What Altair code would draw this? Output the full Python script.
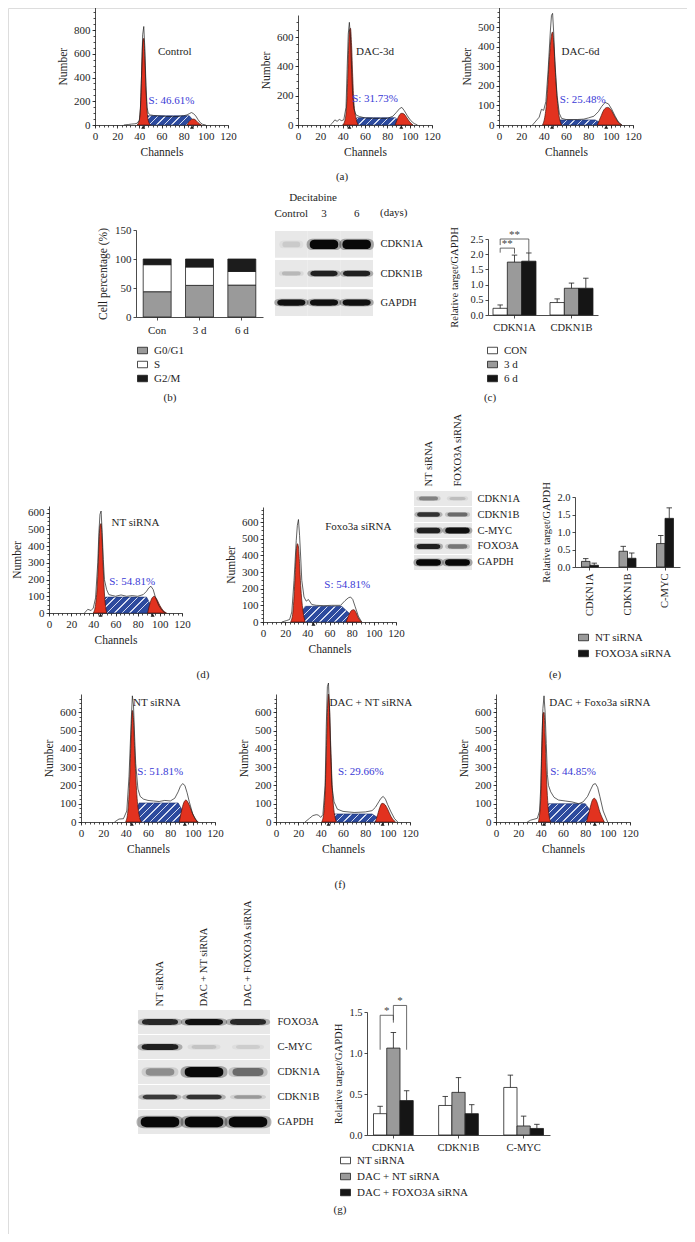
import altair as alt
import pandas as pd

# ------------------------------------------------------------------ data
CHANNEL_TICKS = [0, 20, 40, 60, 80, 100, 120]

# (a) Control
a1_raw_ch = [26, 30, 33, 36, 38, 40, 41, 42, 43, 44, 45, 46, 47, 48, 50, 53, 56, 60, 65, 70, 75, 80, 83, 85, 87, 89, 91, 93, 95, 97, 100]
a1_raw_n = [0, 4, 8, 10, 15, 40, 140, 420, 760, 830, 640, 330, 150, 100, 85, 80, 78, 75, 72, 70, 72, 78, 85, 95, 105, 95, 75, 45, 20, 6, 0]
a1_g1_ch = [38, 40, 41, 42, 43, 44, 45, 46, 47, 48, 50]
a1_g1_n = [0, 40, 150, 420, 690, 730, 560, 300, 120, 40, 0]
a1_s_ch = [41, 47, 85, 89, 92]
a1_s_n = [0, 78, 78, 35, 0]
a1_g2_ch = [83, 85, 87, 89, 91, 93, 96]
a1_g2_n = [0, 30, 46, 50, 40, 20, 0]
a1_marks = [43.5, 87.5]

# (a) DAC-3d
a2_raw_ch = [29, 31, 33, 35, 37, 39, 41, 43, 44, 45, 46, 47, 48, 49, 50, 52, 55, 60, 70, 80, 85, 88, 91, 93, 95, 98, 101, 104, 107]
a2_raw_n = [0, 15, 35, 25, 38, 30, 35, 120, 380, 620, 700, 600, 380, 200, 110, 68, 58, 48, 45, 45, 60, 85, 112, 120, 100, 62, 30, 10, 0]
a2_g1_ch = [40, 42, 44, 45, 46, 47, 48, 49, 50, 52, 54]
a2_g1_n = [0, 30, 200, 450, 640, 660, 540, 330, 160, 45, 0]
a2_s_ch = [45, 53, 87, 91, 95]
a2_s_n = [0, 50, 50, 25, 0]
a2_g2_ch = [87, 89, 91, 93, 95, 97, 100, 103]
a2_g2_n = [0, 40, 70, 80, 75, 55, 22, 0]
a2_marks = [46, 92.5]

# (a) DAC-6d
a3_raw_ch = [30, 33, 36, 38, 40, 42, 44, 46, 47, 48, 49, 50, 52, 54, 56, 60, 70, 76, 80, 85, 89, 92, 95, 98, 101, 104, 107, 110]
a3_raw_n = [0, 20, 40, 80, 75, 120, 280, 480, 560, 570, 470, 330, 150, 60, 34, 28, 28, 30, 36, 45, 68, 95, 115, 108, 80, 45, 15, 0]
a3_g1_ch = [39, 41, 43, 45, 47, 48, 49, 51, 53, 56]
a3_g1_n = [0, 40, 140, 330, 460, 475, 420, 220, 80, 0]
a3_s_ch = [45, 53, 86, 91, 95]
a3_s_n = [0, 26, 26, 12, 0]
a3_g2_ch = [88, 91, 94, 97, 100, 103, 106, 110]
a3_g2_n = [0, 40, 78, 90, 80, 50, 20, 0]
a3_marks = [47.5, 96]

# (d) NT siRNA
d1_raw_ch = [32, 35, 38, 40, 42, 44, 45, 46, 47, 48, 49, 50, 52, 54, 57, 60, 65, 70, 75, 80, 85, 88, 90, 92, 94, 96, 99, 102, 105]
d1_raw_n = [0, 22, 15, 30, 90, 300, 480, 590, 610, 480, 320, 200, 140, 110, 105, 100, 108, 100, 104, 100, 110, 130, 150, 160, 140, 95, 45, 15, 0]
d1_g1_ch = [40, 42, 44, 45, 46, 47, 48, 49, 50, 52]
d1_g1_n = [0, 50, 220, 400, 520, 535, 430, 260, 120, 0]
d1_s_ch = [44, 51, 88, 92, 96]
d1_s_n = [0, 95, 95, 45, 0]
d1_g2_ch = [89, 91, 93, 95, 97, 100, 103, 106]
d1_g2_n = [0, 55, 90, 100, 85, 45, 15, 0]
d1_marks = [46.5, 93.5]

# (d) Foxo3a siRNA
d2_raw_ch = [17, 21, 24, 26, 28, 30, 31, 32, 33, 34, 35, 37, 39, 41, 44, 48, 55, 62, 70, 74, 77, 79, 81, 83, 86, 89]
d2_raw_n = [0, 8, 15, 60, 250, 490, 580, 615, 520, 390, 250, 150, 125, 135, 105, 100, 98, 100, 100, 128, 145, 150, 135, 95, 35, 0]
d2_g1_ch = [25, 27, 29, 30, 31, 32, 33, 34, 36, 38]
d2_g1_n = [0, 60, 280, 420, 470, 450, 350, 220, 70, 0]
d2_s_ch = [29, 38, 71, 79, 85]
d2_s_n = [0, 94, 94, 45, 0]
d2_g2_ch = [75, 78, 80, 82, 84, 86, 89]
d2_g2_n = [0, 50, 70, 74, 55, 25, 0]
d2_marks = [45.5]

# (f) NT siRNA
f1_raw_ch = [30, 34, 38, 41, 43, 45, 46, 47, 48, 49, 51, 53, 56, 60, 65, 70, 75, 80, 84, 87, 89, 91, 93, 95, 97, 100, 104]
f1_raw_n = [0, 16, 18, 60, 250, 560, 690, 640, 470, 320, 180, 140, 125, 118, 115, 112, 118, 115, 130, 165, 195, 210, 200, 160, 110, 45, 0]
f1_g1_ch = [40, 42, 44, 45, 46, 47, 48, 50, 52, 54]
f1_g1_n = [0, 60, 300, 500, 610, 560, 400, 150, 40, 0]
f1_s_ch = [43, 52, 87, 92, 97]
f1_s_n = [0, 104, 104, 50, 0]
f1_g2_ch = [88, 90, 92, 94, 96, 99, 102, 105]
f1_g2_n = [0, 60, 105, 120, 105, 60, 20, 0]
f1_marks = [45.5, 93]

# (f) DAC + NT siRNA
f2_raw_ch = [26, 30, 33, 36, 38, 40, 42, 44, 45, 46, 47, 48, 49, 50, 52, 55, 60, 70, 80, 86, 89, 92, 94, 96, 98, 100, 103, 106, 109]
f2_raw_n = [0, 20, 35, 40, 38, 25, 40, 200, 520, 740, 760, 600, 380, 200, 110, 70, 58, 52, 55, 62, 80, 110, 130, 140, 125, 95, 55, 20, 0]
f2_g1_ch = [41, 43, 45, 46, 47, 48, 49, 51, 54]
f2_g1_n = [0, 60, 360, 600, 700, 620, 420, 120, 0]
f2_s_ch = [45, 52, 86, 92, 98]
f2_s_n = [0, 44, 44, 20, 0]
f2_g2_ch = [89, 91, 93, 95, 97, 100, 103, 107]
f2_g2_n = [0, 40, 80, 102, 98, 70, 30, 0]
f2_marks = [47, 95.5]

# (f) DAC + Foxo3a siRNA
f3_raw_ch = [28, 31, 34, 37, 39, 40, 41, 42, 43, 44, 45, 46, 47, 49, 52, 56, 62, 68, 74, 78, 82, 85, 87, 89, 91, 93, 96, 100]
f3_raw_n = [0, 10, 15, 20, 60, 180, 420, 620, 690, 600, 430, 260, 200, 165, 135, 120, 115, 110, 100, 110, 140, 180, 205, 210, 190, 140, 60, 0]
f3_g1_ch = [38, 40, 41, 42, 43, 44, 45, 47, 49]
f3_g1_n = [0, 120, 380, 590, 600, 470, 280, 60, 0]
f3_s_ch = [40, 47, 80, 86, 91]
f3_s_n = [0, 100, 100, 50, 0]
f3_g2_ch = [81, 84, 86, 88, 90, 93, 97]
f3_g2_n = [0, 70, 115, 130, 115, 55, 0]
f3_marks = [43, 88.5]

# (b) cell-cycle distribution
b_days = ["Con", "3 d", "6 d"]
b_phases = ["G0/G1", "S", "G2/M"]
b_g1 = [43.6, 54.5, 55.0]
b_s = [46.6, 31.7, 23.5]
b_g2 = [9.8, 13.8, 21.5]

# (c) blot + quantification
c_lanes = ["Control", "3", "6"]
c_rows = ["CDKN1A", "CDKN1B", "GAPDH"]
c_int = [[0.05, 1.0, 1.0], [0.12, 0.85, 0.85], [0.95, 0.95, 0.95]]
c_genes = ["CDKN1A", "CDKN1B"]
c_groups = ["CON", "3 d", "6 d"]
c_vals = [[0.22, 0.41], [1.74, 0.88], [1.77, 0.88]]
c_errs = [[0.11, 0.12], [0.23, 0.17], [0.27, 0.33]]

# (e) blot + quantification
e_lanes = ["NT siRNA", "FOXO3A siRNA"]
e_rows = ["CDKN1A", "CDKN1B", "C-MYC", "FOXO3A", "GAPDH"]
e_int = [[0.35, 0.1], [0.75, 0.45], [0.85, 0.95], [0.85, 0.4], [1.0, 1.0]]
e_genes = ["CDKN1A", "CDKN1B", "C-MYC"]
e_groups = ["NT siRNA", "FOXO3A siRNA"]
e_vals = [[0.16, 0.45, 0.67], [0.05, 0.25, 1.39]]
e_errs = [[0.08, 0.14, 0.23], [0.06, 0.15, 0.30]]

# (g) blot + quantification
g_lanes = ["NT siRNA", "DAC + NT siRNA", "DAC + FOXO3A siRNA"]
g_rows = ["FOXO3A", "C-MYC", "CDKN1A", "CDKN1B", "GAPDH"]
g_int = [[0.8, 0.95, 0.8], [0.85, 0.08, 0.04], [0.3, 1.0, 0.45], [0.7, 0.75, 0.25], [1.0, 1.0, 1.0]]
g_genes = ["CDKN1A", "CDKN1B", "C-MYC"]
g_groups = ["NT siRNA", "DAC + NT siRNA", "DAC + FOXO3A siRNA"]
g_vals = [[0.26, 0.36, 0.58], [1.06, 0.52, 0.11], [0.42, 0.26, 0.08]]
g_errs = [[0.09, 0.11, 0.15], [0.19, 0.18, 0.12], [0.12, 0.11, 0.05]]

# significance brackets: (gene idx, group from, group to, top, leg from, leg to, text)
c_sig = [(0, 0, 1, 2.2, 2.05, 2.02, "**"), (0, 0, 2, 2.5, 2.3, 2.04, "**")]
g_sig = [(0, 0, 1, 1.46, 1.04, 1.37, "*"), (0, 1, 2, 1.58, 1.4, 1.04, "*")]

# ------------------------------------------------------------------ style / layout
W, H, M = 679, 1226, 8
SERIF = "Liberation Serif"
INK = "#1e1e1e"
RED = "#e2321f"
RED_EDGE = "#4a140c"
BLUE = "#2c4a9e"
HATCH = "#d3dbf0"
BLUE_EDGE = "#1b2b66"
S_TXT = "#3a3ad6"
STRIP = "#e8e8e8"


def px(v):
    return v - M


def lin(dom, a, b):
    return alt.Scale(domain=dom, range=[px(a), px(b)], nice=False, zero=False)


AX = dict(labelFont=SERIF, titleFont=SERIF, labelFontSize=11, titleFontSize=11.5,
          labelColor=INK, titleColor=INK, domainColor=INK, tickColor=INK,
          domainWidth=0.8, tickWidth=0.8, grid=False, titleFontWeight="normal",
          labelFlush=False, labelOverlap=False)


def axis(orient, where, **kw):
    d = dict(AX)
    if orient == "bottom":
        off = px(where) - H
    elif orient == "top":
        off = -px(where)
    elif orient == "left":
        off = -px(where)
    else:
        off = px(where) - W
    d.update(orient=orient, offset=off)
    d.update(kw)
    return alt.Axis(**d)


def hatch_fill(w, h, spacing=7.5, lw=1.5):
    D = w + h * h / w
    stops = [alt.GradientStop(offset=0, color=BLUE)]
    k = 0
    while (k * spacing + 2) / D < 1:
        a = (k * spacing + 2) / D
        b = min((k * spacing + 2 + lw) / D, 1)
        stops += [alt.GradientStop(offset=a, color=BLUE), alt.GradientStop(offset=a, color=HATCH),
                  alt.GradientStop(offset=b, color=HATCH), alt.GradientStop(offset=b, color=BLUE)]
        k += 1
    stops.append(alt.GradientStop(offset=1, color=BLUE))
    return alt.LinearGradient(gradient="linear", stops=stops, x1=0, y1=0, x2=1, y2=h / w)


def histogram(x0, w, y0, ytop, ymax, yticks, ystep, raw, g1, s, g2, marks, label, label_at, s_text, s_at):
    xs = lin([0, 120], x0, x0 + w)
    ys = lin([0, ymax], y0, ytop)
    ax_x = axis("bottom", y0, values=CHANNEL_TICKS, title="Channels", tickSize=3, labelPadding=2, titlePadding=5)
    ax_y = axis("left", x0, values=yticks, title="Number", tickSize=3, labelPadding=2, titlePadding=5)
    mx = axis("bottom", y0, values=list(range(0, 121, 4)), labels=False, domain=False, tickSize=2, title=None)
    my = axis("left", x0, values=list(range(0, int(ymax), ystep)), labels=False, domain=False, tickSize=2, title=None)

    def enc(ax1=None, ax2=None):
        return dict(x=alt.X("ch:Q", scale=xs, axis=ax1), y=alt.Y("n:Q", scale=ys, axis=ax2))

    s_df = pd.DataFrame({"ch": s[0], "n": s[1]})
    sw = (max(s[0]) - min(s[0])) * w / 120.0
    sh = max(s[1]) * (y0 - ytop) / ymax
    s_layer = alt.Chart(s_df).mark_area(fill=hatch_fill(sw, sh), stroke=BLUE_EDGE, strokeWidth=0.6).encode(**enc(ax_x, ax_y))
    g1_layer = alt.Chart(pd.DataFrame({"ch": g1[0], "n": g1[1]})).mark_area(
        fill=RED, stroke=RED_EDGE, strokeWidth=0.7, interpolate="monotone").encode(**enc(mx, my))
    g2_layer = alt.Chart(pd.DataFrame({"ch": g2[0], "n": g2[1]})).mark_area(
        fill=RED, stroke=RED_EDGE, strokeWidth=0.7, interpolate="monotone").encode(**enc())
    raw_layer = alt.Chart(pd.DataFrame({"ch": raw[0], "n": raw[1]})).mark_line(
        color=INK, strokeWidth=0.7).encode(**enc())
    mk_layer = alt.Chart(pd.DataFrame({"ch": marks, "n": [0] * len(marks)})).mark_point(
        shape="triangle-up", filled=True, size=16, color=INK, opacity=1, yOffset=2).encode(**enc())
    lab_layer = alt.Chart(pd.DataFrame({"ch": [label_at[0]], "n": [label_at[1]], "t": [label]})).mark_text(
        font=SERIF, fontSize=11, color=INK).encode(text="t:N", **enc())
    s_txt_layer = alt.Chart(pd.DataFrame({"ch": [s_at[0]], "n": [s_at[1]], "t": [s_text]})).mark_text(
        font=SERIF, fontSize=11, color=S_TXT).encode(text="t:N", **enc())
    return alt.layer(s_layer, g1_layer, g2_layer, raw_layer, mk_layer, lab_layer, s_txt_layer).resolve_axis(
        x="independent", y="independent")


def legend(x, y, gap=2):
    return alt.Legend(orient="none", legendX=px(x), legendY=px(y), title=None,
                      symbolType="M-1,-0.65H1V0.65H-1Z", symbolSize=100, symbolStrokeColor=INK,
                      symbolStrokeWidth=0.8, labelFont=SERIF, labelFontSize=11, labelColor=INK,
                      rowPadding=gap, padding=0, labelOffset=6)


def centers(n_groups, pi, po, ci, gj):
    return po + ci + (1 - pi) * (gj + 0.5) / n_groups


def bar_panel(genes, groups, vals, errs, colors, x0, x1, pi, po, y0, ytop, ymax, yticks,
              label_angle, leg, title_pad, sig=None, ystar_dy=-4):
    xs = alt.Scale(domain=genes, range=[px(x0), px(x1)], paddingInner=pi, paddingOuter=po)
    xo = alt.Scale(domain=groups, paddingInner=0, paddingOuter=0)
    ys = lin([0, ymax], y0, ytop)
    rows = []
    for gi, g in enumerate(groups):
        for ci, c in enumerate(genes):
            rows.append({"gene": c, "grp": g, "v": vals[gi][ci], "top": vals[gi][ci] + errs[gi][ci]})
    df = pd.DataFrame(rows)
    if label_angle:
        ax_x = axis("bottom", y0, title=None, tickSize=3, labelAngle=label_angle, labelAlign="right",
                    labelBaseline="middle", labelPadding=3, labelFontSize=10.5)
    else:
        ax_x = axis("bottom", y0, title=None, tickSize=3, labelAngle=0, labelPadding=4, labelFontSize=10.5)
    ax_y = axis("left", x0, values=yticks, format=".1f", title="Relative target/GAPDH",
                tickSize=3, labelPadding=2, titlePadding=title_pad, labelFontSize=10.5, titleFontSize=10.5)
    X = alt.X("gene:N", scale=xs, sort=genes, axis=ax_x)
    X0 = alt.X("gene:N", scale=xs, sort=genes, axis=None)
    XO = alt.XOffset("grp:N", scale=xo, sort=groups)
    bars = alt.Chart(df).mark_bar(stroke=INK, strokeWidth=0.8).encode(
        x=X, xOffset=XO, y=alt.Y("v:Q", scale=ys, axis=ax_y),
        fill=alt.Fill("grp:N", scale=alt.Scale(domain=groups, range=colors), sort=groups, legend=leg))
    err = alt.Chart(df).mark_rule(color=INK, strokeWidth=0.8).encode(
        x=X0, xOffset=XO, y=alt.Y("v:Q", scale=ys, axis=None), y2="top:Q")
    cap = alt.Chart(df).mark_point(shape="M-1,0H1", size=30, stroke=INK, strokeWidth=0.8,
                                   filled=False, opacity=1).encode(
        x=X0, xOffset=XO, y=alt.Y("top:Q", scale=ys, axis=None))
    panel = alt.layer(bars, err, cap).resolve_axis(x="independent", y="independent")
    if sig:
        total = len(genes) - pi + 2 * po
        ls = lin([0, total], x0, x1)
        seg, stars = [], []
        for (ci, ga, gb, top, la, lb, txt) in sig:
            xa = centers(len(groups), pi, po, ci, ga)
            xb = centers(len(groups), pi, po, ci, gb)
            seg += [{"xa": xa, "xb": xa, "ya": la, "yb": top},
                    {"xa": xa, "xb": xb, "ya": top, "yb": top},
                    {"xa": xb, "xb": xb, "ya": lb, "yb": top}]
            stars.append({"xm": (xa + xb) / 2, "ym": top, "t": txt})
        br = alt.Chart(pd.DataFrame(seg)).mark_rule(color="#444", strokeWidth=0.8).encode(
            x=alt.X("xa:Q", scale=ls, axis=None), x2="xb:Q",
            y=alt.Y("ya:Q", scale=ys, axis=None), y2="yb:Q")
        st = alt.Chart(pd.DataFrame(stars)).mark_text(font=SERIF, fontSize=11, color="#444",
                                                      baseline="middle", dy=ystar_dy).encode(
            x=alt.X("xm:Q", scale=ls, axis=None), y=alt.Y("ym:Q", scale=ys, axis=None), text="t:N")
        panel = alt.layer(panel, alt.layer(br, st)).resolve_scale(x="independent").resolve_axis(
            x="independent", y="independent")
    return panel


def band_path(r):
    return (f"M-1,0C-1,{-r} -0.75,{-r} -0.5,{-r}L0.5,{-r}C0.75,{-r} 1,{-r} 1,0"
            f"C1,{r} 0.75,{r} 0.5,{r}L-0.5,{r}C-0.75,{r} -1,{r} -1,0Z")


def blot(lanes, rows, inten, x0, x1, ytop, ybot, gap, bw, thick, lane_y, lane_angle, label_x):
    xs = alt.Scale(domain=lanes, range=[px(x0), px(x1)], paddingInner=0, paddingOuter=0)
    ys = alt.Scale(domain=rows, range=[px(ytop), px(ybot)], paddingInner=gap, paddingOuter=0)
    recs = []
    for ri, r in enumerate(rows):
        for li, l in enumerate(lanes):
            recs.append({"lane": l, "row": r, "v": inten[ri][li]})
    df = pd.DataFrame(recs)
    if lane_angle:
        lane_ax = axis("top", lane_y, title=None, domain=False, ticks=False, labelAngle=lane_angle,
                       labelAlign="left", labelBaseline="middle", labelPadding=0, labelFontSize=10.5)
    else:
        lane_ax = axis("top", lane_y, title=None, domain=False, ticks=False, labelAngle=0,
                       labelPadding=0, labelFontSize=11)
    row_ax = axis("right", label_x, title=None, domain=False, ticks=False, labelPadding=0,
                  labelAlign="left", labelBaseline="middle", labelFontSize=10.5)
    strip = alt.Chart(df).mark_rect(fill=STRIP).encode(
        x=alt.X("lane:N", scale=xs, sort=lanes, axis=lane_ax),
        y=alt.Y("row:N", scale=ys, sort=rows, axis=row_ax))
    shapes = alt.Shape("row:N", scale=alt.Scale(domain=rows, range=[band_path(t) for t in thick]), legend=None)
    halo = alt.Chart(df).mark_point(filled=True, color="#000", strokeWidth=0).encode(
        x=alt.X("lane:N", scale=xs, sort=lanes, axis=None),
        y=alt.Y("row:N", scale=ys, sort=rows, axis=None),
        shape=shapes,
        opacity=alt.Opacity("v:Q", scale=alt.Scale(domain=[0, 1], range=[0.03, 0.3]), legend=None),
        size=alt.Size("v:Q", scale=alt.Scale(domain=[0, 1], range=[(0.75 * bw) ** 2, (1.12 * bw) ** 2]), legend=None))
    core = alt.Chart(df).mark_point(filled=True, color="#000", strokeWidth=0).encode(
        x=alt.X("lane:N", scale=xs, sort=lanes, axis=None),
        y=alt.Y("row:N", scale=ys, sort=rows, axis=None),
        shape=shapes,
        opacity=alt.Opacity("v:Q", scale=alt.Scale(domain=[0, 1], range=[0.04, 0.95]), legend=None),
        size=alt.Size("v:Q", scale=alt.Scale(domain=[0, 1], range=[(0.55 * bw) ** 2, (0.92 * bw) ** 2]), legend=None))
    return alt.layer(strip, halo, core).resolve_scale(size="independent", opacity="independent").resolve_axis(
        x="independent", y="independent")


panels = []

# ---- (a)
panels.append(histogram(95, 133, 125, 7.5, 990, [0, 200, 400, 600, 800], 50,
                        (a1_raw_ch, a1_raw_n), (a1_g1_ch, a1_g1_n), (a1_s_ch, a1_s_n), (a1_g2_ch, a1_g2_n),
                        a1_marks, "Control", (72, 615), "S: 46.61%", (69, 200)))
panels.append(histogram(298, 134, 125, 15, 750, [0, 200, 400, 600], 50,
                        (a2_raw_ch, a2_raw_n), (a2_g1_ch, a2_g1_n), (a2_s_ch, a2_s_n), (a2_g2_ch, a2_g2_n),
                        a2_marks, "DAC-3d", (69, 498), "S: 31.73%", (69, 177)))
panels.append(histogram(499, 134, 125, 7.5, 600, [0, 100, 200, 300, 400, 500], 25,
                        (a3_raw_ch, a3_raw_n), (a3_g1_ch, a3_g1_n), (a3_s_ch, a3_s_n), (a3_g2_ch, a3_g2_n),
                        a3_marks, "DAC-6d", (73, 372), "S: 25.48%", (75, 128)))

# ---- (d)
HT = [0, 100, 200, 300, 400, 500, 600]
panels.append(histogram(49, 133, 613, 506, 640, HT, 25,
                        (d1_raw_ch, d1_raw_n), (d1_g1_ch, d1_g1_n), (d1_s_ch, d1_s_n), (d1_g2_ch, d1_g2_n),
                        d1_marks, "NT siRNA", (78, 540), "S: 54.81%", (75, 185)))
panels.append(histogram(263, 133, 622, 507, 690, HT, 25,
                        (d2_raw_ch, d2_raw_n), (d2_g1_ch, d2_g1_n), (d2_s_ch, d2_s_n), (d2_g2_ch, d2_g2_n),
                        d2_marks, "Foxo3a siRNA", (86, 570), "S: 54.81%", (76, 222)))

# ---- (f)
panels.append(histogram(81, 134, 822, 694, 700, HT, 25,
                        (f1_raw_ch, f1_raw_n), (f1_g1_ch, f1_g1_n), (f1_s_ch, f1_s_n), (f1_g2_ch, f1_g2_n),
                        f1_marks, "NT siRNA", (68, 650), "S: 51.81%", (71, 275)))
panels.append(histogram(276, 134, 822, 694, 700, HT, 25,
                        (f2_raw_ch, f2_raw_n), (f2_g1_ch, f2_g1_n), (f2_s_ch, f2_s_n), (f2_g2_ch, f2_g2_n),
                        f2_marks, "DAC + NT siRNA", (85, 650), "S: 29.66%", (76, 275)))
panels.append(histogram(496, 134, 822, 694, 700, HT, 25,
                        (f3_raw_ch, f3_raw_n), (f3_g1_ch, f3_g1_n), (f3_s_ch, f3_s_n), (f3_g2_ch, f3_g2_n),
                        f3_marks, "DAC + Foxo3a siRNA", (93, 650), "S: 44.85%", (69, 275)))

# ---- (b) stacked bars
b_rows = []
for i, d in enumerate(b_days):
    for k, (ph, arr) in enumerate(zip(b_phases, [b_g1, b_s, b_g2])):
        b_rows.append({"day": d, "phase": ph, "v": arr[i], "ord": k})
b_x = alt.Scale(domain=b_days, range=[px(136), px(263)], paddingInner=0.34, paddingOuter=0.17)
b_y = lin([0, 150], 317, 230)
panels.append(alt.Chart(pd.DataFrame(b_rows)).mark_bar(stroke=INK, strokeWidth=0.8).encode(
    x=alt.X("day:N", scale=b_x, sort=b_days,
            axis=axis("bottom", 317, title=None, tickSize=3, labelAngle=0, labelPadding=4)),
    y=alt.Y("v:Q", stack="zero", scale=b_y,
            axis=axis("left", 136, values=[0, 50, 100, 150], title="Cell percentage (%)",
                      tickSize=3, labelPadding=2, titlePadding=6)),
    fill=alt.Fill("phase:N", scale=alt.Scale(domain=b_phases, range=["#9a9a9a", "#ffffff", "#1c1c1c"]),
                  sort=b_phases, legend=legend(137, 345)),
    order=alt.Order("ord:Q")))

# ---- (c)
panels.append(blot(c_lanes, c_rows, c_int, 275, 373, 231, 316, 0.08, 31, [0.33, 0.2, 0.22], 218, 0, 380))
panels.append(bar_panel(c_genes, c_groups, c_vals, c_errs, ["#ffffff", "#9a9a9a", "#151515"],
                        488, 598, 0.246, 0.088, 315, 239, 2.5, [0, 0.5, 1.0, 1.5, 2.0, 2.5], 0,
                        legend(487, 345), 10, c_sig))

# ---- (e)
panels.append(blot(e_lanes, e_rows, e_int, 414, 472, 491, 570, 0.06, 27, [0.2, 0.2, 0.24, 0.22, 0.26], 486, -90, 477))
panels.append(bar_panel(e_genes, e_groups, e_vals, e_errs, ["#9a9a9a", "#151515"],
                        575, 680, 0.547, 0.173, 567, 497, 2.0, [0, 0.5, 1.0, 1.5, 2.0], -90,
                        legend(578, 632, 4), 5))

# ---- (g)
panels.append(blot(g_lanes, g_rows, g_int, 138, 270, 1010, 1134, 0.04, 42,
                   [0.16, 0.16, 0.26, 0.13, 0.27], 1006, -90, 277))
panels.append(bar_panel(g_genes, g_groups, g_vals, g_errs, ["#ffffff", "#9a9a9a", "#151515"],
                        367, 550, 0.39, 0.1, 1135, 1012, 1.5, [0, 0.5, 1.0, 1.5], 0,
                        legend(340, 1155, 4), 5, g_sig))

# ---- captions
cap_x = [342, 170, 490, 203, 555, 340, 340, 313]
cap_y = [177, 398, 398, 675, 675, 885, 1210, 198]
cap_t = ["(a)", "(b)", "(c)", "(d)", "(e)", "(f)", "(g)", "Decitabine"]
pxs = lin([0, W + 2 * M], 0, W + 2 * M)
pys = lin([0, H + 2 * M], 0, H + 2 * M)
panels.append(alt.layer(
    alt.Chart(pd.DataFrame({"x": cap_x, "y": cap_y, "t": cap_t})).mark_text(
        font=SERIF, fontSize=11, color=INK).encode(
        x=alt.X("x:Q", scale=pxs, axis=None), y=alt.Y("y:Q", scale=pys, axis=None), text="t:N"),
    alt.Chart(pd.DataFrame({"x": [380], "y": [213], "t": ["(days)"]})).mark_text(
        font=SERIF, fontSize=11, color=INK, align="left").encode(
        x=alt.X("x:Q", scale=pxs, axis=None), y=alt.Y("y:Q", scale=pys, axis=None), text="t:N")))

chart = alt.layer(*panels).resolve_scale(
    x="independent", y="independent", fill="independent", xOffset="independent",
    size="independent", opacity="independent", shape="independent"
).resolve_axis(x="independent", y="independent").resolve_legend(fill="independent").properties(
    width=W, height=H, padding=0, autosize=alt.AutoSizeParams(type="none")
).configure_view(stroke=None).configure(background="white")

chart.save("out.html", embed_options={"renderer": "svg", "actions": False})
